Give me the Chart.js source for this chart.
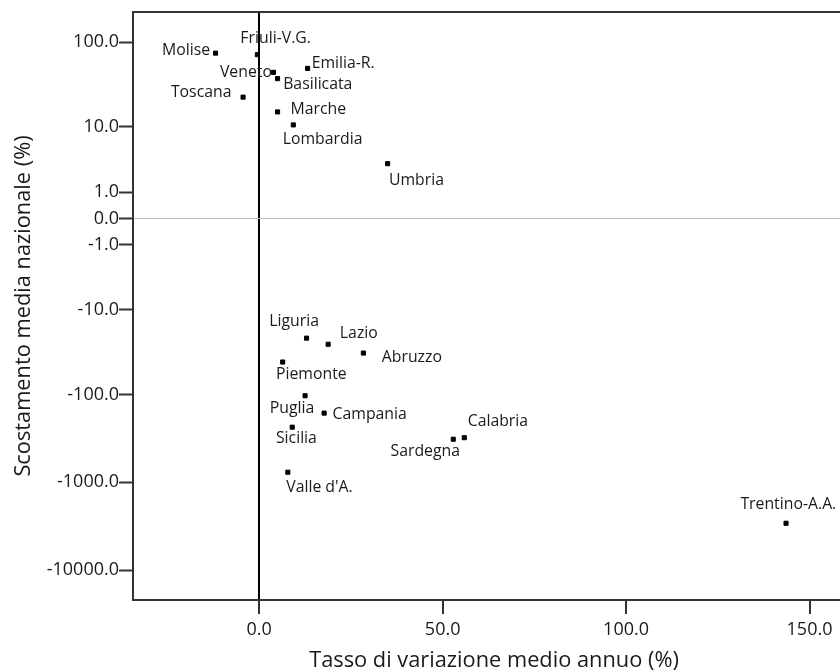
<!DOCTYPE html>
<html lang="it">
<head>
<meta charset="utf-8">
<title>Scostamento dalla media nazionale e tasso di variazione medio annuo</title>
<script src="https://cdn.jsdelivr.net/npm/chart.js@4.4.1/dist/chart.umd.min.js"></script>
<style>
  html, body { margin: 0; padding: 0; background: #fff; overflow: hidden; width: 840px; height: 672px; }
  #wrap { width: 862px; height: 672px; }
</style>
</head>
<body>
<div id="wrap"><canvas id="chart" width="862" height="672"></canvas></div>
<script>
// Regioni e valori
const regions = [
  'Molise', 'Friuli-V.G.', 'Veneto', 'Basilicata', 'Emilia-R.', 'Toscana',
  'Marche', 'Lombardia', 'Umbria', 'Liguria', 'Lazio', 'Abruzzo',
  'Piemonte', 'Puglia', 'Campania', 'Sicilia', 'Sardegna', 'Calabria',
  "Valle d'A.", 'Trentino-A.A.'
];
// Tasso di variazione medio annuo (%)
const growthRate = [
  -11.9, -0.5, 3.9, 5.0, 13.2, -4.4,
  5.0, 9.3, 35.0, 12.9, 18.8, 28.4,
  6.4, 12.5, 17.7, 9.0, 52.9, 55.9,
  7.8, 143.6
];
// Scostamento dalla media nazionale (%)
const deviation = [
  75, 72, 45, 38, 50, 23,
  15.3, 10.6, 3.2, -22, -26, -33,
  -42, -103, -163, -236, -324, -311,
  -770, -2936
];
const xTickValues = [0, 50, 100, 150];
const yTickValues = [-10000, -1000, -100, -10, -1, 0, 1, 10, 100];

// Posizione delle etichette rispetto al punto: [dx, dy, allineamento]
const labelPlacement = {
  'Molise': [-5.5, -2.6, 'right'],
  'Friuli-V.G.': [-17, -15.7, 'left'],
  'Veneto': [-1.6, 0.6, 'right'],
  'Basilicata': [5.6, 6, 'left'],
  'Emilia-R.': [4, -5, 'left'],
  'Toscana': [-11.6, -5, 'right'],
  'Marche': [13, -2.7, 'left'],
  'Lombardia': [-10.6, 14.3, 'left'],
  'Umbria': [1.3, 17, 'left'],
  'Liguria': [-12.4, -16.6, 'center'],
  'Lazio': [11.7, -11, 'left'],
  'Abruzzo': [18.4, 4, 'left'],
  'Piemonte': [-6.7, 12.7, 'left'],
  'Puglia': [-13, 12.3, 'center'],
  'Campania': [8.4, 1.7, 'left'],
  'Sicilia': [-16.3, 11, 'left'],
  'Sardegna': [6.7, 12.4, 'right'],
  'Calabria': [3.4, -16, 'left'],
  "Valle d'A.": [-1.6, 15.4, 'left'],
  'Trentino-A.A.': [2.3, -18.3, 'center']
};

// Scala logaritmica simmetrica: sign(v) * log10(1 + |v|)
const symlog = v => Math.sign(v) * Math.log10(1 + Math.abs(v));
const symexp = t => Math.sign(t) * (Math.pow(10, Math.abs(t)) - 1);

const FONT = '"Open Sans", "Noto Sans", sans-serif';
const INK = '#1a1a1a';

const points = regions.map((r, i) => ({ x: growthRate[i], y: symlog(deviation[i]) }));

const frameTop = {
  id: 'frameTop',
  beforeDatasetsDraw(chart) {
    const { ctx, chartArea } = chart;
    ctx.save();
    ctx.strokeStyle = '#333';
    ctx.lineWidth = 2;
    ctx.beginPath();
    ctx.moveTo(chartArea.left - 1, chartArea.top);
    ctx.lineTo(chartArea.right, chartArea.top);
    ctx.stroke();
    ctx.restore();
  }
};

const regionLabels = {
  id: 'regionLabels',
  afterDatasetsDraw(chart) {
    const ctx = chart.ctx;
    const meta = chart.getDatasetMeta(0);
    ctx.save();
    ctx.font = '15.8px ' + FONT;
    ctx.fillStyle = INK;
    ctx.textBaseline = 'middle';
    meta.data.forEach((pt, i) => {
      const [dx, dy, align] = labelPlacement[regions[i]];
      ctx.textAlign = align;
      ctx.fillText(regions[i], pt.x + dx, pt.y + dy);
    });
    ctx.restore();
  }
};

function draw() {
  new Chart(document.getElementById('chart'), {
    type: 'scatter',
    data: {
      datasets: [{
        data: points,
        pointStyle: 'rect',
        pointRadius: 2.9,
        pointBorderWidth: 1,
        backgroundColor: '#000',
        borderColor: '#000'
      }]
    },
    plugins: [frameTop, regionLabels],
    options: {
      responsive: false,
      animation: false,
      layout: { padding: { top: 12, right: 7, bottom: 0, left: 0 } },
      plugins: { legend: { display: false }, tooltip: { enabled: false } },
      scales: {
        x: {
          type: 'linear',
          min: -34.4,
          max: 162.4,
          afterBuildTicks: s => { s.ticks = xTickValues.map(v => ({ value: v })); },
          afterFit: s => { s.height = 72; },
          ticks: {
            autoSkip: false,
            padding: 5,
            color: INK,
            font: { family: FONT, size: 18 },
            callback: v => v.toFixed(1)
          },
          grid: {
            drawOnChartArea: true,
            color: c => (c.tick && c.tick.value === 0) ? '#000' : 'rgba(0,0,0,0)',
            lineWidth: 2,
            tickColor: '#333',
            tickLength: 14,
            tickWidth: 2
          },
          border: { display: true, color: '#333', width: 2 },
          title: {
            display: true,
            text: 'Tasso di variazione medio annuo (%)',
            color: INK,
            font: { family: FONT, size: 21.8 },
            padding: { top: 0, bottom: -1.5 }
          }
        },
        y: {
          type: 'linear',
          min: -4.341,
          max: 2.349,
          afterBuildTicks: s => { s.ticks = yTickValues.map(v => ({ value: symlog(v) })); },
          afterFit: s => { s.width = 133; },
          ticks: {
            autoSkip: false,
            padding: 0,
            color: INK,
            font: { family: FONT, size: 18 },
            callback: t => Math.round(symexp(t)).toFixed(1)
          },
          grid: {
            drawOnChartArea: true,
            color: c => (c.tick && Math.abs(c.tick.value) < 1e-9) ? '#bdbdbd' : 'rgba(0,0,0,0)',
            lineWidth: 1,
            tickColor: '#333',
            tickLength: 14,
            tickWidth: 2
          },
          border: { display: true, color: '#333', width: 2 },
          title: {
            display: true,
            text: 'Scostamento media nazionale (%)',
            color: INK,
            font: { family: FONT, size: 21.8 },
            padding: { top: 10.5, bottom: 0 }
          }
        }
      }
    }
  });
}

if (document.fonts && document.fonts.load) {
  Promise.all([
    document.fonts.load('18px "Open Sans"'),
    document.fonts.load('22px "Open Sans"')
  ]).then(draw, draw);
} else {
  draw();
}
</script>
</body>
</html>
